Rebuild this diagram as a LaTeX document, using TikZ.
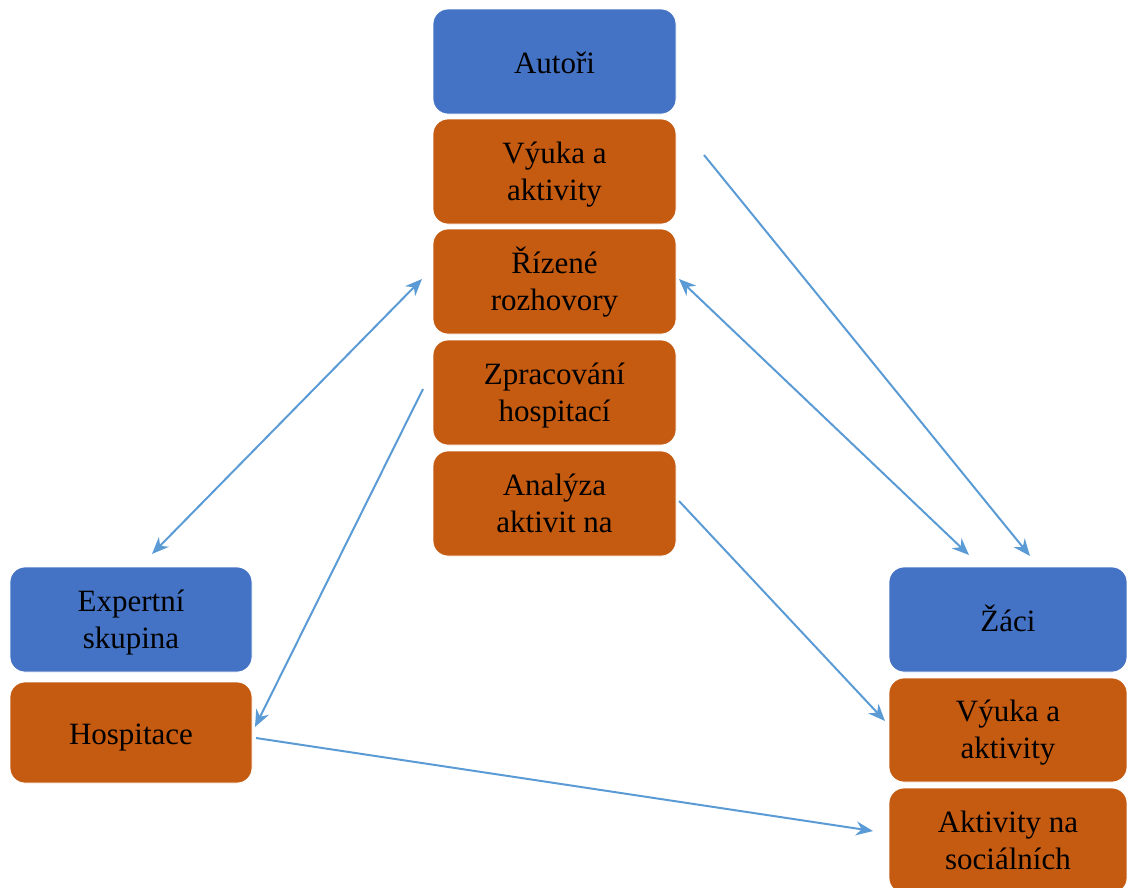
\documentclass[tikz,border=0pt]{standalone}
\usepackage{fontspec}
\setmainfont{Liberation Serif}
\usetikzlibrary{arrows.meta}
\definecolor{boxblue}{HTML}{4472C4}
\definecolor{boxorange}{HTML}{C55A11}
\definecolor{arrblue}{HTML}{5B9BD5}
\tikzset{
  card/.style={rounded corners=15pt, draw=white, line width=0.8pt, minimum width=243pt, minimum height=105pt, align=center, font=\fontsize{31}{37}\selectfont, text=black, inner sep=0pt, text height=63pt, text depth=6pt},
  oneline/.style={text height=30pt, text depth=6pt},
  bluecard/.style={card, fill=boxblue},
  orangecard/.style={card, fill=boxorange},
  conn/.style={draw=arrblue, line width=2pt, -{Stealth[length=17pt,width=14pt]}},
  dconn/.style={draw=arrblue, line width=2pt, {Stealth[length=17pt,width=14pt]}-{Stealth[length=17pt,width=14pt]}}
}
\begin{document}
\begin{tikzpicture}[x=1pt,y=-1pt]
\useasboundingbox (0,0) rectangle (1127,887);
\clip (0,0) rectangle (1127,887);
\node[bluecard, oneline] (autori) at (554.5,61.5) {Autoři};
\node[orangecard] (vyuka1) at (554.5,171.5) {Výuka a\\aktivity};
\node[orangecard] (rizene) at (554.5,281.5) {Řízené\\rozhovory};
\node[orangecard] (zprac) at (554.5,392.5) {Zpracování\\hospitací};
\node[orangecard] (analyza) at (554.5,503.5) {Analýza\\aktivit na};
\node[bluecard, minimum width=242pt] (expert) at (131,619.5) {Expertní\\skupina};
\node[orangecard, oneline, minimum width=242pt, minimum height=101pt] (hosp) at (131,732.5) {Hospitace};
\node[bluecard, oneline, minimum width=238pt] (zaci) at (1008,619.5) {Žáci};
\node[orangecard, minimum width=238pt, minimum height=104pt] (vyuka2) at (1008,730) {Výuka a\\aktivity};
\node[orangecard, minimum width=238pt] (aktsoc) at (1008,840.5) {Aktivity na\\sociálních};
% connector end points
\coordinate (a1s) at (704,155);
\coordinate (a1e) at (1030,556);
\coordinate (a2s) at (679,279);
\coordinate (a2e) at (969,555);
\coordinate (a3s) at (422,279);
\coordinate (a3e) at (152,554);
\coordinate (a4s) at (423,389);
\coordinate (a4e) at (255,727);
\coordinate (a5s) at (679,501);
\coordinate (a5e) at (885,721);
\coordinate (a6s) at (256,738);
\coordinate (a6e) at (873,831);
\draw[conn] (a1s) -- (a1e);
\draw[dconn] (a2s) -- (a2e);
\draw[dconn] (a3s) -- (a3e);
\draw[conn] (a4s) -- (a4e);
\draw[conn] (a5s) -- (a5e);
\draw[conn] (a6s) -- (a6e);
\end{tikzpicture}
\end{document}
